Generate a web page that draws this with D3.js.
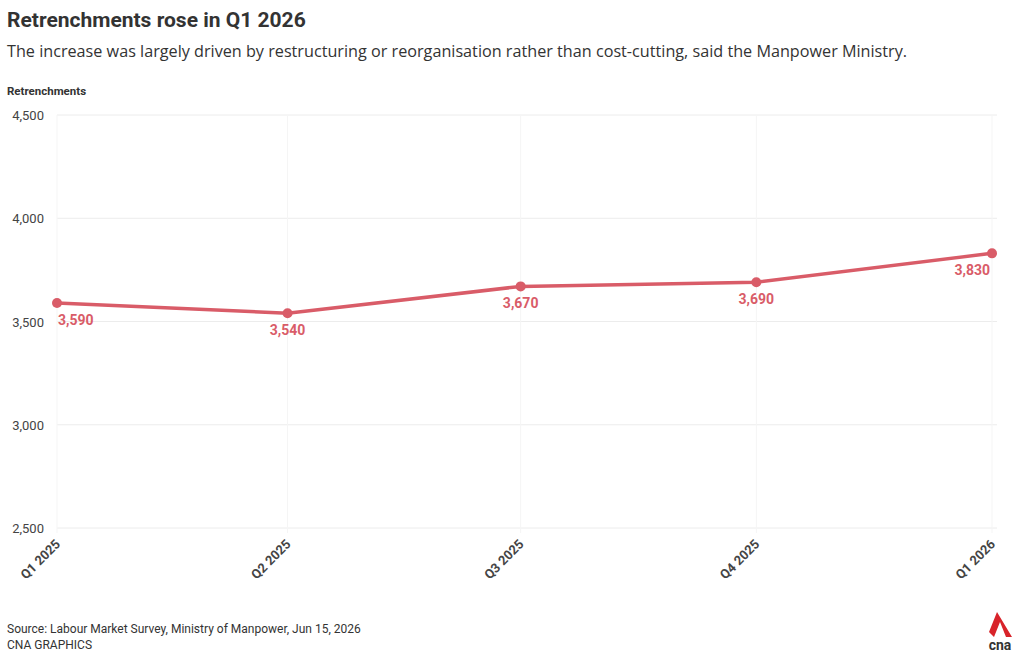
<!DOCTYPE html>
<html><head><meta charset="utf-8">
<script src="https://cdn.jsdelivr.net/npm/d3@7"></script>
<style>body{margin:0;background:#fff;font-family:"Roboto","Liberation Sans",sans-serif}</style>
</head><body><svg id="c" width="1020" height="659"></svg>
<script>
const categories=["Q1 2025","Q2 2025","Q3 2025","Q4 2025","Q1 2026"];
const quarterStarts=["2025-01-01","2025-04-01","2025-07-01","2025-10-01","2026-01-01"];
const values=[3590,3540,3670,3690,3830];
const yTicks=[2500,3000,3500,4000,4500];
const color="#d95c68";
const svg=d3.select("#c");
const dates=quarterStarts.map(d=>new Date(d+"T00:00:00Z"));
const x=d3.scaleUtc().domain([dates[0],dates[4]]).range([57,992]);
const y=d3.scaleLinear().domain([2500,4500]).range([528,115]);
svg.append("text").attr("x",7).attr("y",27).attr("font-size",21).attr("font-weight",700).attr("fill","#333").text("Retrenchments rose in Q1 2026");
svg.append("text").attr("x",7).attr("y",57).attr("font-size",16.2).attr("font-family","Open Sans").attr("fill","#333").text("The increase was largely driven by restructuring or reorganisation rather than cost-cutting, said the Manpower Ministry.");
svg.append("text").attr("x",7).attr("y",95).attr("font-size",11.5).attr("font-weight",700).attr("fill","#333").text("Retrenchments");
const g=svg.append("g");
g.selectAll(".h").data(yTicks).join("line").attr("x1",57).attr("x2",997).attr("y1",d=>y(d)).attr("y2",d=>y(d)).attr("stroke","#ececec");
g.selectAll(".v").data(dates).join("line").attr("x1",d=>x(d)).attr("x2",d=>x(d)).attr("y1",115).attr("y2",533).attr("stroke","#f5f5f5");
g.selectAll(".yl").data(yTicks).join("text").attr("x",44).attr("y",d=>y(d)+5).attr("text-anchor","end").attr("font-size",13).attr("fill","#444").text(d3.format(","));
g.selectAll(".xl").data(categories).join("text").attr("transform",(d,i)=>`translate(${x(dates[i])+4},${545}) rotate(-45)`).attr("text-anchor","end").attr("font-size",13).attr("font-weight",700).attr("fill","#444").text(d=>d);
g.append("path").datum(values).attr("fill","none").attr("stroke",color).attr("stroke-width",3.5)
 .attr("d",d3.line().x((d,i)=>x(dates[i])).y(d=>y(d)));
g.selectAll(".pt").data(values).join("circle").attr("cx",(d,i)=>x(dates[i])).attr("cy",d=>y(d)).attr("r",5).attr("fill",color);
g.selectAll(".lb").data(values).join("text").attr("x",(d,i)=>i===0?x(dates[i])+1:x(dates[i])+(i===4?-2:0))
 .attr("y",d=>y(d)+22).attr("text-anchor",(d,i)=>i===0?"start":i===4?"end":"middle")
 .attr("font-size",14).attr("font-weight",700).attr("fill",color).text(d3.format(","));
svg.append("text").attr("x",7).attr("y",633).attr("font-size",12).attr("fill","#333").text("Source: Labour Market Survey, Ministry of Manpower, Jun 15, 2026");
svg.append("text").attr("x",7).attr("y",649).attr("font-size",12).attr("fill","#333").text("CNA GRAPHICS");
svg.append("path").attr("d","M997,612 L989,632 L994,637 L1000,622 L1006,637 L1012,637 Z").attr("fill","#d8232a");
svg.append("text").attr("x",1000).attr("y",650).attr("text-anchor","middle").attr("font-size",14).attr("font-weight",700).attr("fill","#333").text("cna");
</script></body></html>
